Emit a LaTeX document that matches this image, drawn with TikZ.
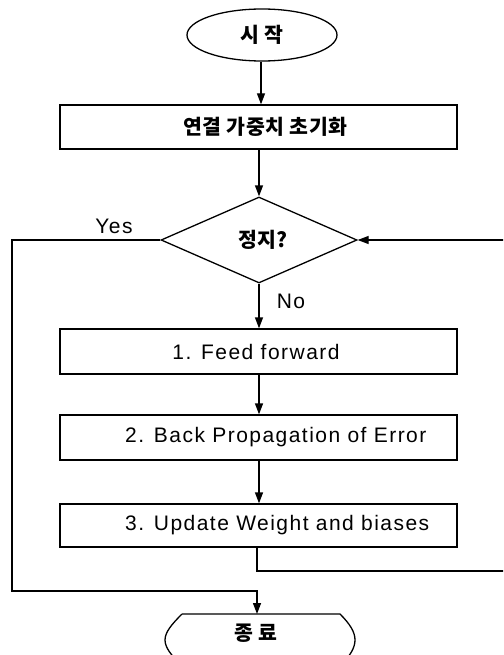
\documentclass[tikz,border=0pt]{standalone}
\usepackage{fontspec}
\setmainfont{Liberation Sans}[LetterSpace=7]
\newfontfamily\kofont{Noto Sans CJK KR}[LetterSpace=3]
\usetikzlibrary{shapes.geometric,arrows.meta}
\tikzset{
  flow/.style={line width=1.3pt},
  arr/.style={flow,-{Triangle[length=11pt,width=8pt]}},
  stepbox/.style={draw,line width=1.3pt,rectangle,minimum width=397pt,inner sep=0pt},
  en/.style={font=\fontsize{21}{24}\selectfont},
  ko/.style={font=\kofont\bfseries\fontsize{20.5}{24}\selectfont},
}
\begin{document}
\begin{tikzpicture}[x=1pt,y=-1pt]
\useasboundingbox (0,0) rectangle (503,655);
\clip (0,0) rectangle (503,655);

% terminals, process boxes and decision
\node[draw,line width=1.3pt,ellipse,minimum width=150pt,minimum height=52pt,inner sep=0pt,ko] (start) at (262,35) {시 작};
\node[stepbox,minimum height=44pt,ko] (init) at (258.5,127) {\hspace*{14pt}연결 가중치 초기화};
\node[draw,line width=1.3pt,diamond,aspect=2.28,minimum width=196pt,minimum height=86pt,inner sep=0pt] (stop) at (259,240) {};
\node[ko,anchor=center] (stoptxt) at (263,240) {정지?};
\node[stepbox,minimum height=45pt] (ff) at (258.5,351.5) {};
\node[en] (fftxt) at (256,351.5) {1. Feed forward};
\node[stepbox,minimum height=45pt] (bp) at (258.5,437.5) {};
\node[en,anchor=west,inner sep=0pt] (bptxt) at (125,437.5) {2. Back Propagation of Error};
\node[stepbox,minimum height=43pt] (uw) at (258.5,525.5) {};
\node[en,anchor=west,inner sep=0pt] (uwtxt) at (125,525.5) {3. Update Weight and biases};

% end terminal: flat top and bottom, rounded sides
\node[minimum width=160pt,minimum height=52pt,inner sep=0pt] (fin) at (260,640) {};
\draw[line width=1.3pt] (182,614) -- (340,614)
  .. controls (350,624) and (355,632) .. (355,640)
  .. controls (355,648) and (350,656) .. (340,666) -- (182,666)
  .. controls (172,656) and (165,648) .. (165,640)
  .. controls (165,632) and (172,624) .. (182,614);
\node[ko] (fintxt) at (256,633) {종 료};

% labels on the decision branches
\node[en] (yes) at (114,226) {Yes};
\node[en] (no) at (291,301) {No};

% main flow
\draw[arr] (start.south -| 261,0) -- (init.north -| 261,0);
\draw[arr] (init.south -| 259,0) -- (stop.north);
\draw[arr] (stop.south) -- (ff.north -| stop.south);
\draw[arr] (ff.south -| stop.south) -- (bp.north -| stop.south);
\draw[arr] (bp.south -| stop.south) -- (uw.north -| stop.south);

% loop back to the decision
\coordinate (lp1) at (257,571);
\coordinate (lp2) at (506,571);
\coordinate (lp3) at (506,240);
\draw[arr] (uw.south -| lp1) -- (lp1) -- (lp2) -- (lp3) -- (stop.east);

% exit on Yes
\coordinate (ex1) at (12,240);
\coordinate (ex2) at (12,591);
\coordinate (ex3) at (257,591);
\draw[arr] (stop.west) -- (ex1) -- (ex2) -- (ex3) -- (ex3 |- 0,614);
\end{tikzpicture}
\end{document}
